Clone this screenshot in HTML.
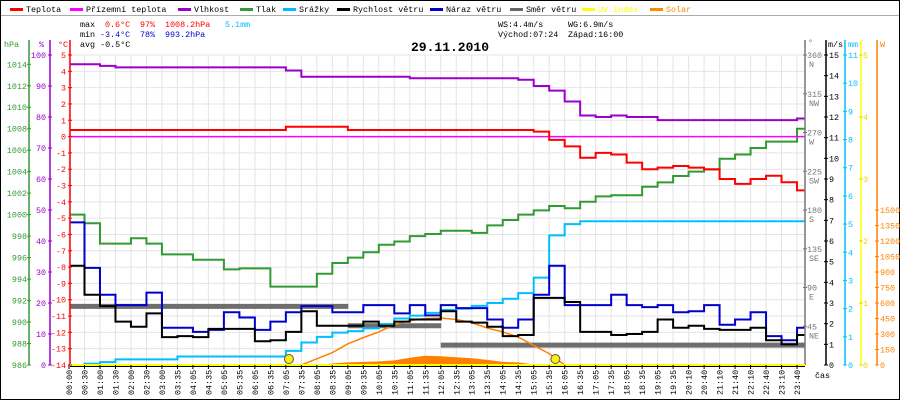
<!DOCTYPE html>
<html><head><meta charset="utf-8"><style>
html,body{margin:0;padding:0;background:#fff}
svg{display:block}
text{font-family:"Liberation Mono",monospace;font-size:8.4px}
</style></head><body>
<svg id="c" width="900" height="400" viewBox="0 0 900 400">
<rect x="0.5" y="0.5" width="899" height="399" fill="#fff" stroke="#000"/>
<line x1="1" y1="15.5" x2="899" y2="15.5" stroke="#aaa"/>
<g id="legend"></g>
<g>
<text x="80" y="27" fill="#000">max</text><text x="105" y="27" fill="#f00">0.6°C</text><text x="140" y="27" fill="#f00">97%</text><text x="165" y="27" fill="#f00">1008.2hPa</text><text x="225" y="27" fill="#0bf">5.1mm</text>
<text x="80" y="37" fill="#000">min</text><text x="100" y="37" fill="#00c">-3.4°C</text><text x="140" y="37" fill="#00c">78%</text><text x="165" y="37" fill="#00c">993.2hPa</text>
<text x="80" y="47" fill="#000">avg -0.5°C</text>
<text x="498" y="27" fill="#000">WS:4.4m/s</text><text x="568" y="27" fill="#000">WG:6.9m/s</text>
<text x="498" y="37" fill="#000">Východ:07:24</text><text x="568" y="37" fill="#000">Západ:16:00</text>
</g>
<text x="450" y="51" text-anchor="middle" style="font-size:13px;font-weight:bold">29.11.2010</text>
<g id="grid"></g>
<g id="series"></g>
<g id="axes"></g>
</svg>
<script>
const timeLabels=["00:00","00:30","01:00","01:30","02:00","02:30","03:00","03:35","04:05","04:35","05:05","05:35","06:05","06:35","07:05","07:35","08:05","08:35","09:05","09:35","10:05","10:35","11:05","11:35","12:05","12:35","13:05","13:35","14:05","14:35","15:05","15:35","16:05","16:35","17:05","17:35","18:05","18:35","19:05","19:35","20:10","20:40","21:10","21:40","22:10","22:40","23:10","23:40"];
const temperature=[0.4,0.4,0.4,0.4,0.4,0.4,0.4,0.4,0.4,0.4,0.4,0.4,0.4,0.4,0.6,0.6,0.6,0.6,0.4,0.4,0.4,0.4,0.4,0.4,0.4,0.4,0.4,0.4,0.4,0.4,0.3,-0.2,-0.6,-1.3,-1.0,-1.1,-1.6,-2.0,-1.9,-1.8,-1.9,-2.0,-2.6,-2.9,-2.6,-2.4,-2.8,-3.3,-3.3];
const windChill=[0,0,0,0,0,0,0,0,0,0,0,0,0,0,0,0,0,0,0,0,0,0,0,0,0,0,0,0,0,0,0,0,0,0,0,0,0,0,0,0,0,0,0,0,0,0,0,0,0];
const humidity=[97,97,96.5,96,96,96,96,96,96,96,96,96,96,96,95,93,93,93,93,93,93,93,92.5,92.5,92.5,92.5,92.5,92.5,92.5,92,90,88.5,85,80.5,80,80.5,80,80,79,79,79,79,79,79,79,79,79,79.5,79];
const pressure=[1000,999.2,997.3,997.3,997.8,997.3,996.3,996.3,995.8,995.8,994.9,995,995,993.3,993.3,993.3,994.5,995.5,996,996.5,997.2,997.5,998,998.2,998.5,998.5,998.3,999,999.5,1000,1000.4,1000.8,1000.6,1001.2,1001.7,1001.8,1001.8,1002.6,1003,1003.6,1004,1004.2,1005.2,1005.6,1006.2,1006.8,1006.8,1008,1007.2];
const rain=[0,0.05,0.1,0.2,0.2,0.2,0.2,0.3,0.3,0.3,0.3,0.3,0.3,0.3,0.5,0.8,1.0,1.15,1.2,1.3,1.45,1.65,1.75,1.85,1.95,2.0,2.1,2.2,2.35,2.55,3.1,4.6,5.0,5.1,5.1,5.1,5.1,5.1,5.1,5.1,5.1,5.1,5.1,5.1,5.1,5.1,5.1,5.1,5.1];
const windSpeed=[4.8,3.4,2.85,2.1,1.85,2.5,1.35,1.4,1.35,1.75,1.75,1.75,1.15,1.2,1.6,2.6,1.9,1.9,1.9,2.1,1.9,2.1,2.2,2.2,2.6,2.1,2.05,1.85,1.4,1.45,3.25,3.25,3.05,1.6,1.6,1.45,1.5,1.6,2.2,1.8,1.9,1.75,1.7,1.7,1.8,1.2,1.0,1.45,1.45];
const windGust=[6.9,4.7,3.4,2.9,2.9,3.5,1.8,1.8,1.6,1.7,2.55,2.3,1.7,2.1,2.55,2.85,2.85,2.55,2.55,2.9,2.9,2.5,2.9,2.4,2.9,2.75,2.75,2.2,1.8,2.2,3.4,4.8,2.9,2.9,2.9,3.4,2.9,2.8,2.9,2.55,2.6,2.9,1.95,2.2,2.55,1.4,1.2,1.8,1.8];
const windDir=[67.5,67.5,67.5,67.5,67.5,67.5,67.5,67.5,67.5,67.5,67.5,67.5,67.5,67.5,67.5,67.5,67.5,67.5,45,45,45,45,45,45,22.5,22.5,22.5,22.5,22.5,22.5,22.5,22.5,22.5,22.5,22.5,22.5,22.5,22.5,22.5,22.5,22.5,22.5,22.5,22.5,22.5,22.5,22.5,22.5,22.5];
const uvIndex=[0,0,0,0,0,0,0,0,0,0,0,0,0,0,0,0,0,0,0,0,0,0,0,0,0,0,0,0,0,0,0,0,0,0,0,0,0,0,0,0,0,0,0,0,0,0,0,0,0];
const solarMax=[0,0,0,0,0,0,0,0,0,0,0,0,0,0,0,0,60,120,205,265,320,390,430,450,455,440,410,358,320,270,190,110,0,0,0,0,0,0,0,0,0,0,0,0,0,0,0,0,0];
const solar=[0,0,0,0,0,0,0,0,0,0,0,0,0,0,0,0,0,15,25,30,35,45,70,90,85,75,65,50,30,25,5,0,0,0,0,0,0,0,0,0,0,0,0,0,0,0,0,0,0];
const sunEvents=[14.2,31.4];

const NS="http://www.w3.org/2000/svg";
const svg=document.getElementById('c');
const gGrid=document.getElementById('grid'),gSer=document.getElementById('series'),gAx=document.getElementById('axes'),gLeg=document.getElementById('legend');
const X0=69,STEP=15.49,PL=70,PR=805,PT=55,PB=365;
const x=i=>X0+i*STEP;
const yT=v=>PB-(v+14)*(PB-PT)/19;
const yH=v=>PB-v*(PB-PT)/100;
const yP=v=>PB-(v-986)*10.74;
const yMM=v=>PB-v*(PB-PT)/11;
const yMS=v=>PB-v*(PB-PT)/15;
const yDir=v=>PB-v*(PB-PT)/360;
const yUV=v=>PB-v*(PB-PT)/5;
const yW=v=>PB-v*0.1033;
function el(tag,attrs,parent){const e=document.createElementNS(NS,tag);for(const k in attrs)e.setAttribute(k,attrs[k]);parent.appendChild(e);return e;}
function txt(s,attrs,parent){const e=el('text',attrs,parent);e.textContent=s;return e;}

const defs=el('defs',{},svg);const cp=el('clipPath',{id:'pc'},defs);el('rect',{x:PL,y:PT-5,width:PR-PL,height:PB-PT+6},cp);
gSer.setAttribute('clip-path','url(#pc)');

for(let i=0;i<timeLabels.length;i++){const l=el('line',{x1:x(i),x2:x(i),y1:PT,y2:PB,stroke:'#e4e4e4'},gGrid);

}
for(let t=-14;t<=5;t++){const l=el('line',{x1:PL,x2:PR,y1:yT(t),y2:yT(t),stroke:'#e4e4e4'},gGrid);

}

function stepPath(arr,yf){let d='';arr.forEach((v,i)=>{const xx=x(i),yy=yf(v);d+=(i?'L'+xx+' '+yy:'M'+xx+' '+yy)+' L'+(xx+STEP)+' '+yy+' ';});return d;}
function linePath(arr,yf){return arr.map((v,i)=>(i?'L':'M')+x(i)+' '+yf(v)).join(' ');}

{let d='M'+x(0)+' '+PB;solar.forEach((v,i)=>{d+=' L'+x(i)+' '+yW(v);});d+=' L'+x(solar.length-1)+' '+PB+' Z';
const p=el('path',{d:d,fill:'#ff8000'},gSer);

}
windDir.forEach((v,i)=>{const r=el('rect',{x:x(i),y:yDir(v)-3,width:STEP+0.5,height:5,fill:'#6e6e6e'},gSer);

});
const series=[
 ['solar-max-line',solarMax,yW,'#ff8000',1.5,false],
 ['rain-line',rain,yMM,'#00bfff',2,true],
 ['pressure-line',pressure,yP,'#339933',2,true],
 ['humidity-line',humidity,yH,'#9900cc',2,true],
 ['wind-chill-line',windChill,yT,'#ff00ff',1.5,true],
 ['temperature-line',temperature,yT,'#ff0000',2,true],
 ['wind-gust-line',windGust,yMS,'#0000cc',2,true],
 ['wind-speed-line',windSpeed,yMS,'#000000',2,true],
 ['uv-index-line',uvIndex,yUV,'#ffff00',2,true]];
series.forEach(s=>{const p=el('path',{d:s[5]?stepPath(s[1],s[2]):linePath(s[1],s[2]),fill:'none',stroke:s[3],'stroke-width':s[4]},gSer);

});
sunEvents.forEach(u=>{const c=el('circle',{cx:x(u),cy:PB-6,r:4.5,fill:'#ffee00',stroke:'#555'},svg);

});

function vaxis(xp,color,top,name){const l=el('line',{x1:xp,x2:xp,y1:top,y2:PB,stroke:color,'stroke-width':1.5},gAx);

}
vaxis(29,'#339933',40,'pressure-axis');vaxis(50,'#9900cc',40,'humidity-axis');vaxis(70,'#ff0000',40,'temperature-axis');
vaxis(805,'#777',40,'direction-axis');vaxis(826,'#000',40,'wind-axis');vaxis(845,'#00bfff',40,'rain-axis');vaxis(861,'#ffff00',40,'uv-axis');vaxis(877,'#ff8000',40,'solar-axis');
const bl=el('line',{x1:PL,x2:PR,y1:PB,y2:PB,stroke:'#ffff00','stroke-width':2},gAx);


el('line',{x1:PL,x2:PR,y1:PB+1.5,y2:PB+1.5,stroke:'#000'},gAx);
txt('hPa',{x:4,y:47,fill:'#339933'},gAx);txt('%',{x:39,y:47,fill:'#9900cc'},gAx);txt('°C',{x:58,y:47,fill:'#f00'},gAx);
txt('°',{x:808,y:45,fill:'#777'},gAx);txt('m/s',{x:828,y:47,fill:'#000'},gAx);txt('mm',{x:848,y:47,fill:'#00bfff'},gAx);txt('W',{x:880,y:47,fill:'#ff8000'},gAx);
function tick(xp,yp,color,label,anchor,lx){el('line',{x1:xp-2,x2:xp+2,y1:yp,y2:yp,stroke:color},gAx);const t=txt(label,{x:lx,y:yp+3,fill:color,'text-anchor':anchor},gAx);

}
for(let p=986;p<=1014;p+=2)tick(29,yP(p),'#339933',String(p),'end',27);
for(let h=0;h<=100;h+=10)tick(50,yH(h),'#9900cc',String(h),'end',46);
for(let t=-14;t<=5;t++)tick(70,yT(t),'#ff0000',String(t),'end',66);
const dirs=[[0,''],[45,'NE'],[90,'E'],[135,'SE'],[180,'S'],[225,'SW'],[270,'W'],[315,'NW'],[360,'N']];
dirs.forEach(d=>{if(d[0]===0)return;tick(805,yDir(d[0]),'#777',String(d[0]),'start',807);txt(d[1],{x:809,y:yDir(d[0])+12,fill:'#777'},gAx);});
for(let v=0;v<=15;v++)tick(826,yMS(v),'#000',String(v),'start',829);
for(let v=0;v<=11;v++)tick(845,yMM(v),'#00bfff',String(v),'start',848);
for(let v=0;v<=5;v++)tick(861,yUV(v),'#e6d600',String(v),'start',863);
for(let v=0;v<=1500;v+=150)tick(877,yW(v),'#ff8000',String(v),'start',880);
timeLabels.forEach((s,i)=>{el('line',{x1:x(i),x2:x(i),y1:PB,y2:PB+4,stroke:'#000'},gAx);
const t=txt(s,{x:0,y:0,fill:'#000',transform:'translate('+(x(i)+3)+','+(PB+30)+') rotate(-90)'},gAx);

});
txt('čas',{x:815,y:378,fill:'#000'},gAx);

const legendItems=[['Teplota','#f00',10],['Přízemní teplota','#f0f',70],['Vlhkost','#90c',178],['Tlak','#393',240],['Srážky','#0bf',283],['Rychlost větru','#000',337],['Náraz větru','#00c',430],['Směr větru','#666',510],['UV index','#ff0',582],['Solar','#f80',650]];
legendItems.forEach(it=>{const g=el('g',{},gLeg);


el('rect',{x:it[2],y:8,width:13,height:3,fill:it[1]},g);
const tc=(it[1]==='#ff0'||it[1]==='#f80')?it[1]:'#000';
txt(it[0],{x:it[2]+16,y:12,fill:tc},g);});
</script>
</body></html>
